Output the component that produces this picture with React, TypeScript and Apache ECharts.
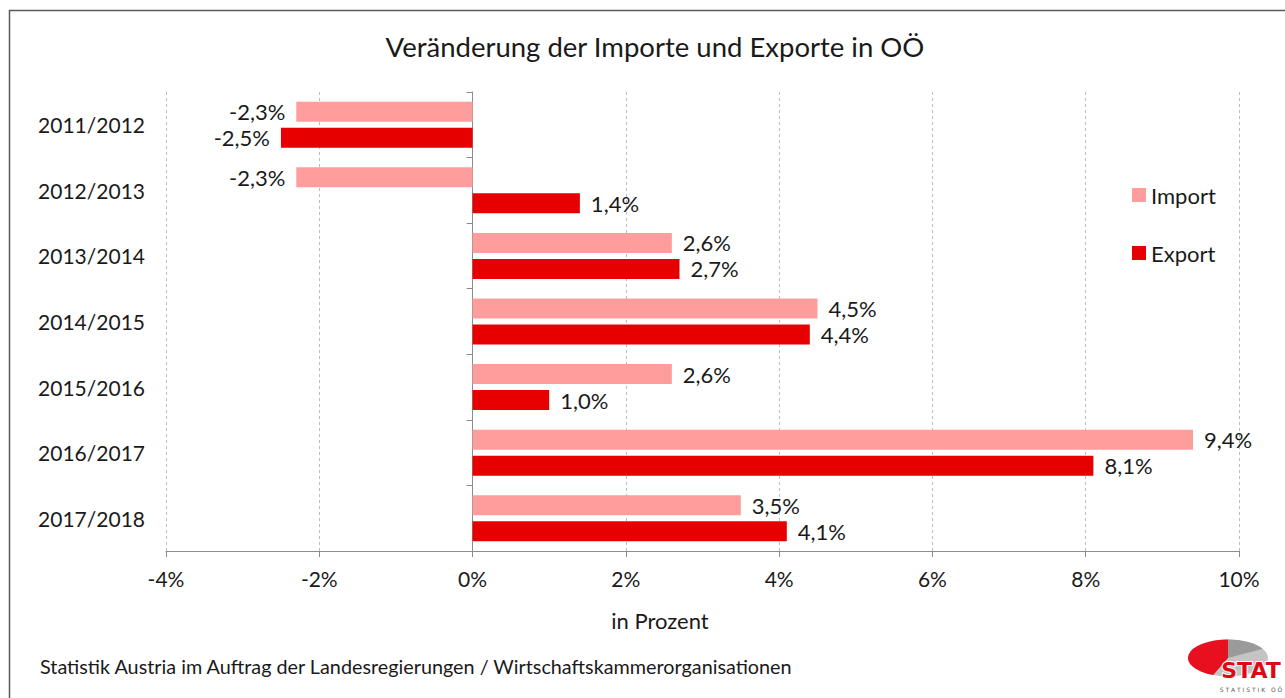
import React, { useEffect, useRef } from "react";
import * as echarts from "echarts";

const categories = ["2011/2012", "2012/2013", "2013/2014", "2014/2015", "2015/2016", "2016/2017", "2017/2018"];
const importValues = [-2.3, -2.3, 2.6, 4.5, 2.6, 9.4, 3.5];
const exportValues = [-2.5, 1.4, 2.7, 4.4, 1.0, 8.1, 4.1];
const xTicks = { min: -4, max: 10, interval: 2 };

const FONT = "Lato";
const TEXT = "#1a1a1a";
const IMPORT_COLOR = "#ff9d9d";
const EXPORT_COLOR = "#e60000";

const fmtPct = (v: number) => v.toFixed(1).replace(".", ",") + "%";

export default function App() {
  const ref = useRef<HTMLDivElement>(null);
  useEffect(() => {
    if (!ref.current) return;
    const chart = echarts.init(ref.current, undefined, { renderer: "svg" });
    const mkData = (arr: number[]) =>
      arr.map((v) => ({ value: v, label: { position: v < 0 ? "left" : "right" } }));
    const labelCfg = {
      show: true,
      distance: 11,
      fontFamily: FONT,
      fontSize: 22,
      color: TEXT,
      formatter: (p: any) => fmtPct(p.value),
    };
    chart.setOption({
      animation: false,
      backgroundColor: "#ffffff",
      title: {
        text: "Veränderung der Importe und Exporte in OÖ",
        left: 650,
        top: 27,
        textAlign: "center",
        textStyle: { fontFamily: FONT, fontSize: 27.5, fontWeight: "normal", color: TEXT },
      },
      legend: {
        data: ["Import", "Export"],
        orient: "vertical",
        left: 1132,
        top: 184,
        padding: 0,
        itemGap: 36,
        itemWidth: 14,
        itemHeight: 14,
        icon: "rect",
        textStyle: { fontFamily: FONT, fontSize: 22, color: TEXT },
      },
      grid: { left: 166, right: 46, top: 92, bottom: 147, containLabel: false },
      xAxis: {
        type: "value",
        min: xTicks.min,
        max: xTicks.max,
        interval: xTicks.interval,
        axisLine: { show: true, lineStyle: { color: "#8c8c8c", width: 1 } },
        axisTick: { show: true, length: 6, lineStyle: { color: "#8c8c8c" } },
        axisLabel: {
          margin: 17,
          fontFamily: FONT,
          fontSize: 21,
          color: TEXT,
          formatter: (v: number) => v + "%",
        },
        splitLine: { show: true, lineStyle: { color: "#bdbdbd", type: [3, 3], width: 1 } },
      },
      yAxis: [
        {
          type: "category",
          data: categories,
          inverse: true,
          axisLine: { show: false, onZero: false },
          axisTick: { show: false },
          axisLabel: { margin: 21, fontFamily: FONT, fontSize: 21, color: TEXT },
        },
        {
          type: "category",
          data: categories,
          inverse: true,
          position: "left",
          axisLine: { show: true, onZero: true, lineStyle: { color: "#8c8c8c", width: 1 } },
          axisTick: { show: true, length: 6, lineStyle: { color: "#8c8c8c" } },
          axisLabel: { show: false },
        },
      ],
      series: [
        {
          name: "Import",
          type: "bar",
          yAxisIndex: 0,
          data: mkData(importValues),
          barWidth: 20,
          barGap: "30%",
          itemStyle: { color: IMPORT_COLOR },
          label: labelCfg,
        },
        {
          name: "Export",
          type: "bar",
          yAxisIndex: 0,
          data: mkData(exportValues),
          barWidth: 20,
          barGap: "30%",
          itemStyle: { color: EXPORT_COLOR },
          label: labelCfg,
        },
      ],
      graphic: [
        {
          type: "rect",
          shape: { x: 9.5, y: 10.5, width: 1300, height: 700 },
          style: { fill: "none", stroke: "#5a5a5a", lineWidth: 1.5 },
          silent: true,
          z: -10,
        },
        {
          type: "text",
          x: 660,
          y: 620,
          style: {
            text: "in Prozent",
            fontFamily: FONT,
            fontSize: 22,
            fill: TEXT,
            align: "center",
            verticalAlign: "middle",
          },
        },
        {
          type: "text",
          x: 40,
          y: 666,
          style: {
            text: "Statistik Austria im Auftrag der Landesregierungen / Wirtschaftskammerorganisationen",
            fontFamily: FONT,
            fontSize: 19.8,
            fill: TEXT,
            verticalAlign: "middle",
          },
        },
        {
          type: "group",
          x: 1228,
          y: 658,
          scaleY: 0.46,
          children: [
            { type: "circle", shape: { cx: 0, cy: 0, r: 40 }, style: { fill: "#c4c4c4" } },
            {
              type: "sector",
              shape: { cx: 0, cy: 0, r: 40, startAngle: -Math.PI / 2, endAngle: -Math.PI / 6 },
              style: { fill: "#9a9a9a" },
            },
            {
              type: "sector",
              shape: { cx: 0, cy: 0, r: 40, startAngle: Math.PI * 0.62, endAngle: Math.PI * 1.5 },
              style: { fill: "#e8101e" },
            },
          ],
        },
        {
          type: "text",
          x: 1251,
          y: 670,
          style: {
            text: "STAT",
            fontFamily: "DejaVu Sans",
            fontWeight: 900,
            fontSize: 22,
            fill: "#e30613",
            stroke: "#ffffff",
            lineWidth: 2,
            align: "center",
            verticalAlign: "middle",
          },
        },
        {
          type: "text",
          x: 1251,
          y: 689,
          style: {
            text: "S T A T I S T I K   O Ö",
            fontFamily: "DejaVu Sans",
            fontSize: 6,
            fill: "#555555",
            align: "center",
            verticalAlign: "middle",
          },
        },
      ],
    });
    return () => chart.dispose();
  }, []);
  return (
    <div
      ref={ref}
      style={{ position: "fixed", left: 0, top: 0, width: 1285, height: 698, background: "#fff" }}
    />
  );
}
